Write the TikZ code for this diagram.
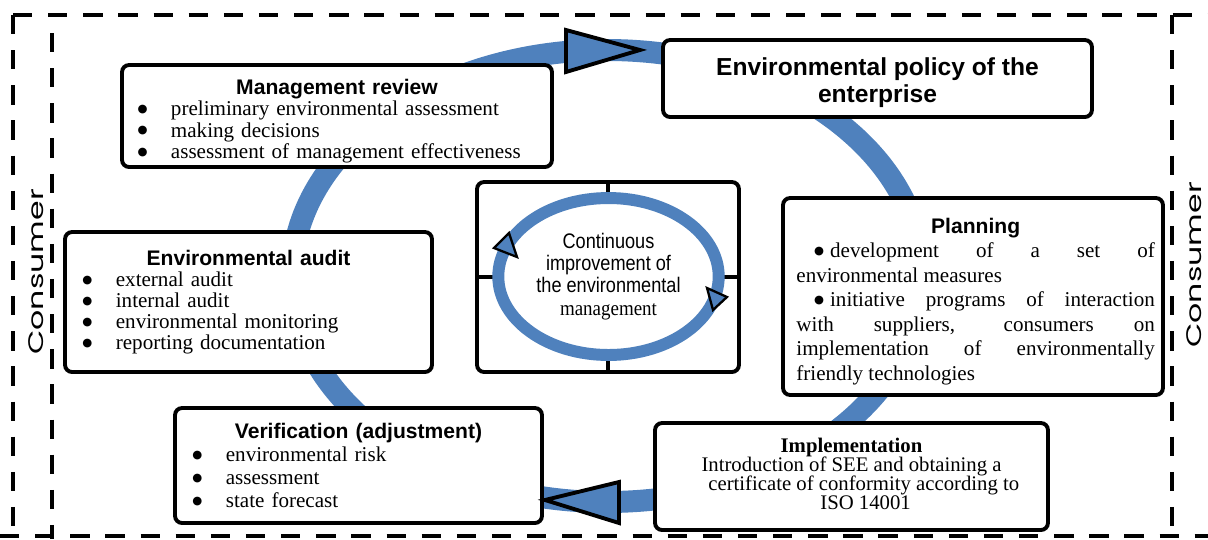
\documentclass[tikz,border=0pt]{standalone}
\usepackage{fontspec}
\setmainfont{Liberation Serif}
\newfontfamily\headfont{Liberation Sans}
\newfontfamily\narrowfont[FakeStretch=0.86]{Liberation Sans}
\newfontfamily\narrowserif[FakeStretch=0.9]{Liberation Serif}
\newfontfamily\consfont{Poppins}
\newfontfamily\dotfont{DejaVu Sans}
\usetikzlibrary{shapes.geometric}
\definecolor{ringblue}{RGB}{79,129,189}
\setlength{\parindent}{0pt}
\newcommand{\bul}{\raisebox{1.8pt}{\dotfont\fontsize{6.5}{6.5}\selectfont ●}}
\newcommand{\bitem}[1]{\par\makebox[19pt][l]{\bul}#1}

\begin{document}
\begin{tikzpicture}[x=0.02cm,y=-0.02cm,
  box/.style={draw,line width=2.2pt,rounded corners=4pt,fill=white,inner sep=0pt},
  boxtext/.style={inner sep=0pt},
  frame/.style={line width=2.3pt,dash pattern=on 11pt off 9pt},
  ring/.style={draw=ringblue,line width=12.5pt},
  flowtip/.style={draw,fill=ringblue,line width=2.2pt,line join=miter},
  smalltip/.style={draw,fill=ringblue,line width=1.3pt,line join=miter},
  consumer/.style={rotate=90,font=\consfont\fontsize{12}{12}\selectfont,inner sep=0pt}]
    \useasboundingbox (0,0) rectangle (1208,539);

    \draw[frame] (13,15) -- (1208,15);
    \draw[frame] (0,536) -- (1208,536);
    \draw[frame] (13,15) -- (13,539);
    \draw[frame] (52,33) -- (52,539);
    \draw[frame] (1172,15) -- (1172,539);
    \node[consumer] (consumerL) at (36,272) {\scalebox{1.5}[1]{Consumer}};
    \node[consumer] (consumerR) at (1194,265) {\scalebox{1.5}[1]{Consumer}};

    \draw[ring] (607,276) ellipse [x radius=315,y radius=226];

    \node[box,minimum width=8.6cm,minimum height=2.04cm] (review) at (337,116) {};
    \node[boxtext,text width=227pt,font=\fontsize{12}{12.2}\selectfont] (reviewtext)
        at ([yshift=-2.8pt]review.center)
        {{\centering\headfont\bfseries Management review\par}%
         \bitem{preliminary environmental assessment}%
         \bitem{making decisions}%
         \bitem{assessment of management effectiveness}};

    \node[box,minimum width=8.58cm,minimum height=1.54cm] (policy) at (877.5,78.5) {};
    \node[boxtext,align=center,font=\headfont\bfseries\fontsize{14}{15.3}\selectfont] (policytext)
        at ([yshift=-2.3pt]policy.center) {Environmental policy of the\\enterprise};

    \node[box,minimum width=7.6cm,minimum height=3.94cm] (planning) at (973,296.5) {};
    \node[boxtext,text width=204pt,align=justify,font=\fontsize{12}{14}\selectfont] (planningtext)
        at ([xshift=1.5pt,yshift=-2.8pt]planning.center)
        {{\centering\headfont\bfseries Planning\par}%
         \hspace*{10pt}\bul\hspace{3.5pt}development of a set of\linebreak environmental measures\par
         \hspace*{10pt}\bul\hspace{3.5pt}initiative programs of interaction\linebreak with suppliers, consumers on\linebreak implementation of environmentally\linebreak friendly technologies\par};

    \node[box,minimum width=7.34cm,minimum height=2.8cm] (audit) at (248.5,302) {};
    \node[boxtext,text width=189pt,font=\fontsize{12}{12}\selectfont] (audittext) at (audit.center)
        {{\centering\headfont\bfseries Environmental audit\par}%
         \bitem{external audit}%
         \bitem{internal audit}%
         \bitem{environmental monitoring}%
         \bitem{reporting documentation}};

    \node[box,minimum width=7.34cm,minimum height=2.3cm] (verification) at (358.5,465.5) {};
    \node[boxtext,text width=189pt,font=\fontsize{12}{13}\selectfont] (verificationtext)
        at (verification.center)
        {{\centering\headfont\bfseries Verification (adjustment)\par}%
         \bitem{environmental risk}%
         \bitem{assessment}%
         \bitem{state forecast}};

    \node[box,minimum width=7.86cm,minimum height=2.14cm] (implementation) at (851.5,476.5) {};
    \node[boxtext,align=center,font=\fontsize{11.8}{10.8}\selectfont,
          execute at begin node={\lineskiplimit=-20pt}] (implementationtext)
        at ([yshift=1.4pt]implementation.center)
        {\textbf{Implementation}\\Introduction of SEE and obtaining a\\
         \hspace*{14pt}certificate of conformity according to\\\hspace*{16pt}ISO 14001};

    \node[box,minimum width=5.24cm,minimum height=3.8cm] (core) at (608,277) {};
    \draw[line width=2pt] (core.north) -- (core.south) (core.west) -- (core.east);
    \node[ellipse,draw=ringblue,line width=6.8pt,fill=white,minimum width=4.4cm,minimum height=3.14cm,
          align=center,font=\narrowfont\fontsize{12}{12.6}\selectfont] (cycle) at (608.5,276.5)
        {Continuous\\improvement of\\the environmental\\{\narrowserif management}};

    \draw[flowtip] (566,30) -- (640,50) -- (566,72) -- cycle;
    \draw[flowtip] (545,500) -- (619,482) -- (619,523) -- cycle;
    \draw[smalltip] (509,233) -- (517,257) -- (494,248) -- cycle;
    \draw[smalltip] (707,288) -- (727,297) -- (713,310) -- cycle;
\end{tikzpicture}
\end{document}
